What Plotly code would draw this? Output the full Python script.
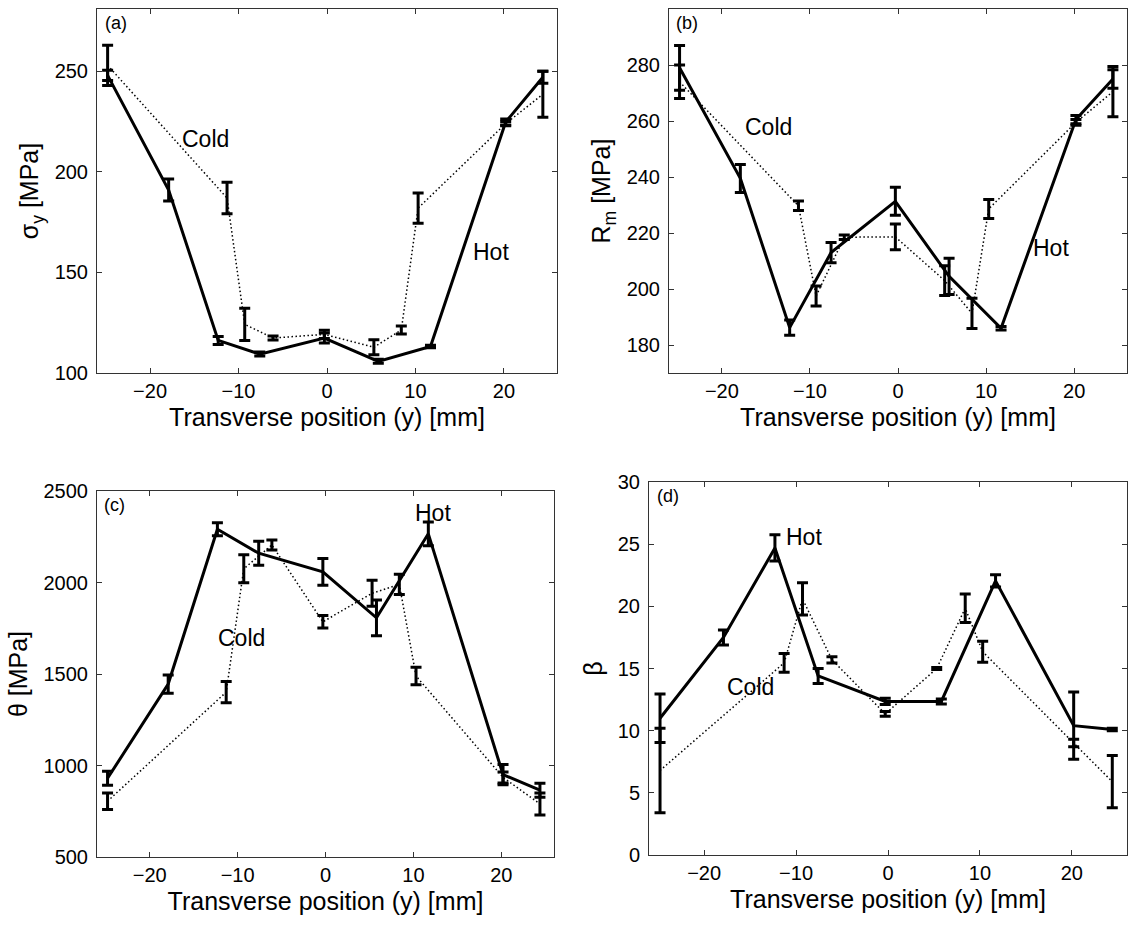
import plotly.graph_objects as go

W, H = 1128, 929

# x positions (mm)
hot_x = [-24.8, -17.9, -12.3, -7.6, -0.3, 5.8, 11.7, 20.2, 24.4]
cold_x = [-24.8, -11.3, -9.3, -6.1, -0.3, 5.3, 8.4, 10.3, 20.2, 24.4]

# (a) sigma_y [MPa]
a_hot = [248, 191, 116.2, 109.4, 117.4, 105.8, 113.2, 224.8, 247.1]
a_hot_err = [2.5, 5.5, 2, 1, 2.5, 1, 0.6, 1.5, 3]
a_cold = [253, 187, 124.2, 117.4, 119.2, 112.8, 121.4, 182, 224, 238.6]
a_cold_err = [10, 7.8, 8, 1, 2, 3.7, 2, 7.5, 1, 11.4]

# (b) R_m [MPa]
b_hot = [279, 239.5, 186.2, 213, 231.3, 204.5, 186, 260.5, 275]
b_hot_err = [8, 5, 2.7, 3.6, 5, 6.5, 0.6, 1.5, 3.3]
b_cold = [274, 229.7, 197.5, 218.5, 218.6, 203, 191.3, 228.6, 259.5, 270.5]
b_cold_err = [6, 1.7, 3.6, 0.8, 4.6, 5.3, 5.4, 3.4, 1, 9]

# (c) theta [MPa]
c_hot = [930, 1445, 2291, 2160, 2058, 1807, 2266, 950, 865]
c_hot_err = [38, 50, 35, 66, 73, 98, 65, 55, 38]
c_cold = [805, 1401, 2075, 2205, 1785, 1941, 1990, 1489, 935, 790]
c_cold_err = [45, 58, 77, 27, 34, 71, 55, 48, 30, 60]

# (d) beta
d_hot = [11.0, 17.5, 24.7, 14.4, 12.35, 12.35, 22.05, 10.4, 10.1]
d_hot_err = [1.95, 0.6, 1.05, 0.6, 0.25, 0.2, 0.5, 2.7, 0.1]
d_cold = [6.8, 15.45, 20.6, 15.7, 11.35, 15.0, 19.85, 16.35, 9.0, 5.9]
d_cold_err = [3.4, 0.75, 1.3, 0.25, 0.2, 0.08, 1.15, 0.85, 0.3, 2.1]

x_ticks = [-20, -10, 0, 10, 20]
x_title = "Transverse position (y) [mm]"

panels = [
    dict(lab="(a)", hot=a_hot, he=a_hot_err, cold=a_cold, ce=a_cold_err,
         yr=[100, 281], yt=[100, 150, 200, 250], ytitle="σ<sub>y</sub> [MPa]",
         box=(97, 557, 9, 373),
         ann=[("Cold", -13.7, 216.5), ("Hot", 18.5, 160.3)]),
    dict(lab="(b)", hot=b_hot, he=b_hot_err, cold=b_cold, ce=b_cold_err,
         yr=[170, 300], yt=[180, 200, 220, 240, 260, 280, 300], ytitle="R<sub>m</sub> [MPa]",
         box=(669, 1127, 9, 373),
         ann=[("Cold", -14.7, 258), ("Hot", 17.4, 214.5)]),
    dict(lab="(c)", hot=c_hot, he=c_hot_err, cold=c_cold, ce=c_cold_err,
         yr=[500, 2500], yt=[500, 1000, 1500, 2000, 2500], ytitle="θ [MPa]",
         box=(97, 554, 491, 857),
         ann=[("Cold", -9.6, 1696), ("Hot", 12.2, 2381)]),
    dict(lab="(d)", hot=d_hot, he=d_hot_err, cold=d_cold, ce=d_cold_err,
         yr=[0, 30], yt=[0, 5, 10, 15, 20, 25, 30], ytitle="β",
         box=(649, 1127, 482, 855),
         ann=[("Cold", -15.0, 13.5), ("Hot", -9.1, 25.6)]),
]

FONT = "Liberation Sans, Arial, Helvetica, sans-serif"
fig = go.Figure()
layout = dict(width=W, height=H, margin=dict(l=0, r=0, t=0, b=0, autoexpand=False),
              paper_bgcolor="white", plot_bgcolor="white", showlegend=False,
              font=dict(family=FONT, color="black", size=20), annotations=[])

for i, p in enumerate(panels):
    n = "" if i == 0 else str(i + 1)
    xa, ya = "x" + n, "y" + n
    fig.add_trace(go.Scatter(
        x=cold_x, y=p["cold"], mode="lines", xaxis=xa, yaxis=ya,
        line=dict(color="black", width=1.5, dash="1.5px,2.5px"),
        error_y=dict(type="data", array=p["ce"], visible=True, color="black",
                     thickness=3, width=5.5)))
    fig.add_trace(go.Scatter(
        x=hot_x, y=p["hot"], mode="lines", xaxis=xa, yaxis=ya,
        line=dict(color="black", width=3),
        error_y=dict(type="data", array=p["he"], visible=True, color="black",
                     thickness=3, width=5.5)))
    l, r, t, b = p["box"]
    axcommon = dict(showline=True, linecolor="#333", linewidth=1, mirror="ticks",
                    ticks="inside", ticklen=5, tickwidth=1, tickcolor="#333",
                    showgrid=False, zeroline=False, automargin=False,
                    tickfont=dict(size=20, family=FONT, color="black"))
    layout["xaxis" + n] = dict(axcommon, domain=[l / W, r / W], range=[-26, 26],
                               tickvals=x_ticks, anchor=ya,
                               title=dict(text=x_title, font=dict(size=25, family=FONT),
                                          standoff=7),
                               ticklabelstandoff=0)
    layout["yaxis" + n] = dict(axcommon, domain=[1 - b / H, 1 - t / H], range=p["yr"],
                               tickvals=p["yt"], anchor=xa,
                               title=dict(text=p["ytitle"], font=dict(size=25, family=FONT),
                                          standoff=8),
                               ticklabelstandoff=4)
    layout["annotations"].append(dict(
        text=p["lab"], xref=xa + " domain", yref=ya + " domain", x=0.012, y=0.995,
        xanchor="left", yanchor="top", showarrow=False, font=dict(size=18, family=FONT)))
    for txt, ax_, ay_ in p["ann"]:
        layout["annotations"].append(dict(
            text=txt, xref=xa, yref=ya, x=ax_, y=ay_, showarrow=False,
            font=dict(size=23, family=FONT)))

fig.update_layout(**layout)
fig.write_html("out.html", config={"displayModeBar": False},
               post_script="document.body.style.margin='0px';document.body.style.overflow='hidden';")
